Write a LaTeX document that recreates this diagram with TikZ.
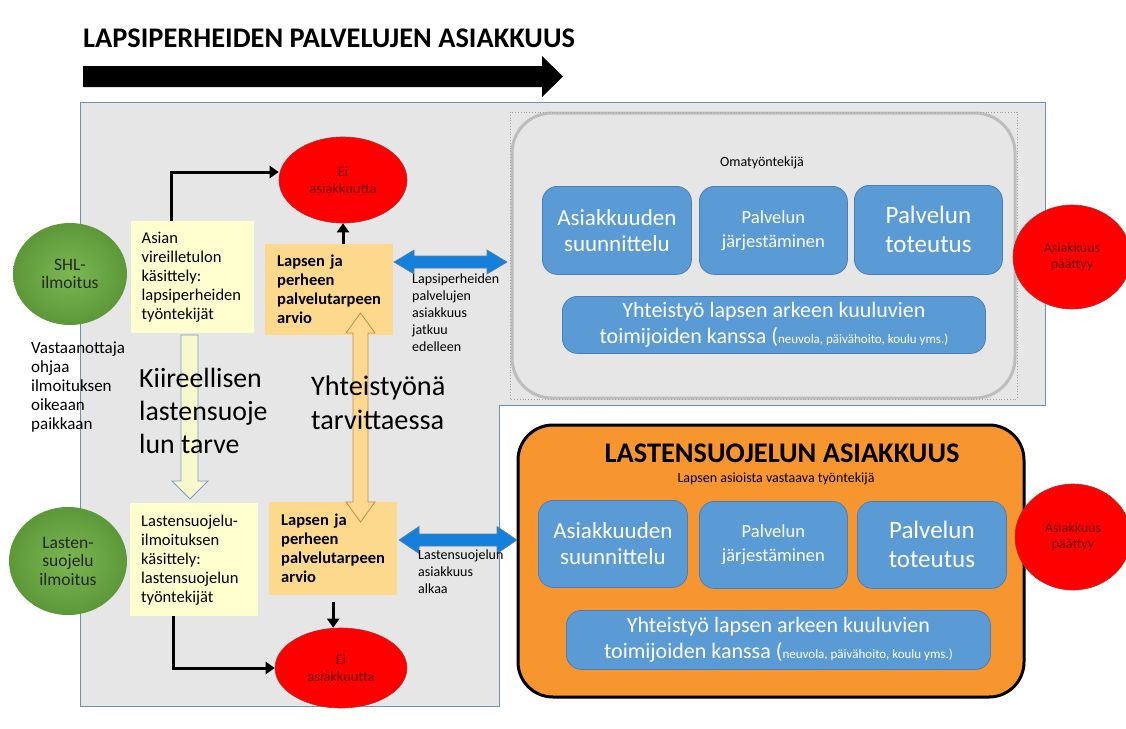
\documentclass[tikz,border=0pt]{standalone}
\usepackage{fontspec}
\setmainfont{Carlito}
\usetikzlibrary{arrows.meta,calc,shapes.geometric}

\definecolor{panelgrey}{HTML}{E6E6E6}
\definecolor{panelline}{HTML}{6F8FB5}
\definecolor{lyellow}{HTML}{FEFECF}
\definecolor{lyarrow}{HTML}{F7F8CC}
\definecolor{lyedge}{HTML}{7C9CC2}
\definecolor{lorange}{HTML}{FDD98D}
\definecolor{loarrow}{HTML}{FFD98F}
\definecolor{loedge}{HTML}{CC8A45}
\definecolor{sblue}{HTML}{5B9BD5}
\definecolor{sblueline}{HTML}{4A7EBB}
\definecolor{arrowblue}{HTML}{1580DC}
\definecolor{arrowblueedge}{HTML}{5E7E9E}
\definecolor{orangebig}{HTML}{F7962F}
\definecolor{eired}{HTML}{FF0000}
\definecolor{eiedge}{HTML}{B03030}
\definecolor{eitext}{HTML}{6B0000}
\definecolor{greenin}{HTML}{7BB852}
\definecolor{greenout}{HTML}{5C9838}
\definecolor{roundgrey}{HTML}{BDBDBD}

\newcommand\hdarr[7]{%
  \draw[#1] (#2,#4) -- (#2+#5,#4-#6) -- (#2+#5,#4-#7) -- (#3-#5,#4-#7) -- (#3-#5,#4-#6)
  -- (#3,#4) -- (#3-#5,#4+#6) -- (#3-#5,#4+#7) -- (#2+#5,#4+#7) -- (#2+#5,#4+#6) -- cycle;}

\begin{document}
\begin{tikzpicture}[x=1pt,y=-1pt,
  ybox/.style={fill=lyellow, draw=none, inner sep=0pt, align=left,
    font=\fontsize{16.5}{19}\selectfont},
  obox/.style={fill=lorange, draw=none, inner sep=0pt, align=left,
    font=\bfseries\fontsize{16.5}{19}\selectfont},
  sbox/.style={fill=sblue, draw=sblueline, line width=0.8pt, rounded corners=15pt,
    text=white, align=center, inner sep=0pt, anchor=north west},
  eiball/.style={ellipse, fill=eired, draw=eiedge, line width=0.6pt, text=eitext,
    align=center, inner sep=0pt, font=\fontsize{14.5}{17}\selectfont},
  gball/.style={ellipse, inner color=greenin, outer color=greenout, draw=none, align=center, inner sep=0pt,
    text=black!85, font=\fontsize{17.5}{18.5}\selectfont},
  conn/.style={line width=3pt, -{Triangle[length=9pt,width=12pt]}},
  note/.style={align=left, inner sep=0pt, anchor=north west},
]
\useasboundingbox (0,0) rectangle (1126,728);
\clip (0,0) rectangle (1126,728);
\fill[white] (0,0) rectangle (1126,728);

% title and big arrow
\node[font=\bfseries\fontsize{28.4}{32}\selectfont, inner sep=0pt] (title) at (329,38) {LAPSIPERHEIDEN PALVELUJEN ASIAKKUUS};
\fill[black] (83,66) -- (542,66) -- (542,56) -- (563,76.5) -- (542,97) -- (542,87) -- (83,87) -- cycle;

% panel (L-shaped)
\draw[panelline, fill=panelgrey, line width=1pt] (80,102) -- (1045,102) -- (1045,405) -- (499,405)
  -- (499,706) -- (80,706) -- cycle;
\draw[roundgrey, fill=panelgrey, line width=3pt, rounded corners=40pt] (512,113) rectangle (1015,398);
\draw[gray!70, dotted, line width=0.8pt] (510,112) rectangle (1017,399);

% upper service area
\node[font=\fontsize{14}{16}\selectfont, inner sep=0pt] (oma) at (762,163) {Omatyöntekijä};
\node[sbox, minimum width=149, minimum height=88, font=\fontsize{23}{26}\selectfont] (u1) at (542,186) {Asiakkuuden\\suunnittelu};
\node[sbox, minimum width=148, minimum height=88, font=\fontsize{18.5}{24}\selectfont] (u2) at (699,186) {Palvelun\\järjestäminen};
\node[sbox, minimum width=148, minimum height=89, font=\fontsize{25}{29}\selectfont] (u3) at (854,185) {Palvelun\\toteutus};
\node[sbox, minimum width=423, minimum height=57, font=\fontsize{22}{26}\selectfont] (u4) at (562,296)
  {Yhteistyö lapsen arkeen kuuluvien\\toimijoiden kanssa ({\fontsize{13}{26}\selectfont neuvola, päivähoito, koulu yms.)}};

% lower service area
\draw[black, fill=orangebig, line width=3pt, rounded corners=35pt] (518,425) rectangle (1024,697);
\node[font=\bfseries\fontsize{28.4}{30}\selectfont, inner sep=0pt] (lsa) at (782,453) {LASTENSUOJELUN ASIAKKUUS};
\node[font=\fontsize{14}{16}\selectfont, inner sep=0pt] (lav) at (776,479) {Lapsen asioista vastaava työntekijä};
\node[sbox, minimum width=149, minimum height=87, font=\fontsize{23}{26}\selectfont] (l1) at (538,500) {Asiakkuuden\\suunnittelu};
\node[sbox, minimum width=148, minimum height=87, font=\fontsize{18.5}{24}\selectfont] (l2) at (699,501) {Palvelun\\järjestäminen};
\node[sbox, minimum width=149, minimum height=87, font=\fontsize{25}{29}\selectfont] (l3) at (857,501) {Palvelun\\toteutus};
\node[sbox, minimum width=424, minimum height=59, font=\fontsize{22}{26}\selectfont] (l4) at (566,610)
  {Yhteistyö lapsen arkeen kuuluvien\\toimijoiden kanssa ({\fontsize{13}{26}\selectfont neuvola, päivähoito, koulu yms.)}};

% end circles
\node[eiball, minimum width=118, minimum height=104, font=\fontsize{14}{16}\selectfont] (c1) at (1072,257) {Asiakkuus\\päättyy};
\node[eiball, minimum width=116, minimum height=106, font=\fontsize{14}{16}\selectfont] (c2) at (1073,537) {Asiakkuus\\päättyy};

% left column
\node[gball, minimum width=114, minimum height=102] (g1) at (70,274) {SHL-\\ilmoitus};
\node[gball, minimum width=118, minimum height=108] (g2) at (68,561) {Lasten-\\suojelu\\ilmoitus};

\node[note, font=\fontsize{17}{19}\selectfont] (vast) at (31,342) {Vastaanottaja\\ohjaa\\ilmoituksen\\oikeaan\\paikkaan};

\node[ybox, minimum width=123, minimum height=112, text width=102, anchor=north west] (y1) at (131,221)
  {Asian\\vireilletulon\\käsittely:\\lapsiperheiden\\työntekijät};
\node[ybox, minimum width=128, minimum height=113, text width=106, anchor=north west] (y2) at (130,503)
  {Lastensuojelu-\\ilmoituksen\\käsittely:\\lastensuojelun\\työntekijät};

\node[obox, minimum width=128, minimum height=91, text width=104, anchor=north west] (o1) at (265,244)
  {Lapsen ja\\perheen\\palvelutarpeen\\arvio};
\node[obox, minimum width=128, minimum height=93, text width=104, anchor=north west] (o2) at (269,502)
  {Lapsen ja\\perheen\\palvelutarpeen\\arvio};

\node[eiball, minimum width=128, minimum height=86] (e1) at (343,180) {Ei\\asiakkuutta};
\node[eiball, minimum width=132, minimum height=80] (e2) at (341,668) {Ei\\asiakkuutta};

% block arrows
\draw[fill=lyarrow, draw=lyedge, line width=0.8pt] (181,335) -- (198,335) -- (198,481) -- (208,481)
  -- (190,499) -- (172,481) -- (181,481) -- cycle;
\draw[fill=loarrow, draw=loedge, line width=0.8pt] (353,333) -- (346,333) -- (360.5,313) -- (375,333)
  -- (368,333) -- (368,502) -- (375,502) -- (360.5,522) -- (346,502) -- (353,502) -- cycle;
\hdarr{fill=arrowblue, draw=arrowblueedge, line width=0.6pt}{394}{507}{262}{20}{12}{6}
\hdarr{fill=arrowblue, draw=arrowblueedge, line width=0.6pt}{399}{517}{540}{20}{13.5}{6}

% big overlay texts
\node[note, font=\fontsize{27.8}{33}\selectfont] (kiir) at (139,368) {Kiireellisen\\lastensuoje\\lun tarve};
\node[note, font=\fontsize{28.3}{34}\selectfont] (yht) at (311,376) {Yhteistyönä\\tarvittaessa};

\node[note, font=\fontsize{14}{16.8}\selectfont] (jatk) at (412,274) {Lapsiperheiden\\palvelujen\\asiakkuus\\jatkuu\\edelleen};
\node[note, font=\fontsize{14}{17}\selectfont] (alk) at (418,550) {Lastensuojelun\\asiakkuus\\alkaa};

% connectors
\draw[conn] ([xshift=-21.5pt]y1.north) |- ([yshift=8pt]e1.west);
\draw[conn] (o1.north -| e1.south) -- (e1.south);
\draw[conn] ([yshift=-7pt]o2.south) -- (o2.south |- e2.north);
\draw[conn] ([xshift=-21pt]y2.south) |- (e2.west);
\end{tikzpicture}
\end{document}
